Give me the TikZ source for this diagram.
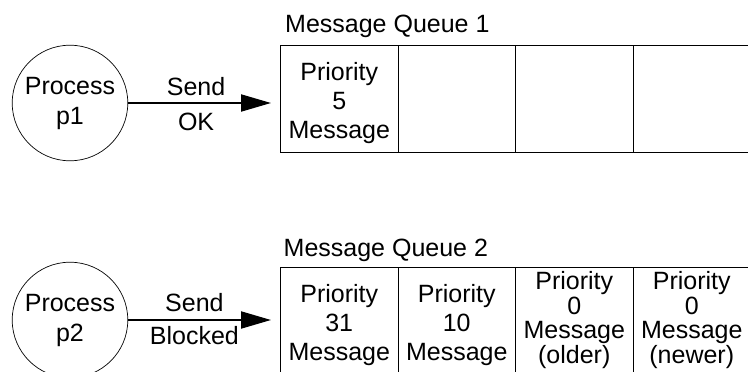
\documentclass[tikz,border=0pt]{standalone}
\usepackage{fontspec}
\setmainfont{Liberation Sans}
\usetikzlibrary{arrows.meta,calc}
\begin{document}
\begin{tikzpicture}[x=1pt,y=-1pt,
  proc/.style={circle,draw,line width=0.7pt,minimum size=115.6pt,inner sep=0pt,align=center,font=\fontsize{25}{30}\selectfont},
  cell/.style={rectangle,draw,line width=1pt,minimum width=117.5pt,minimum height=107pt,inner sep=0pt,outer sep=0pt,anchor=north west},
  celltext/.style={align=center,font=\fontsize{25}{29}\selectfont,inner sep=0pt},
  celltextfour/.style={align=center,font=\fontsize{25}{24.5}\selectfont,inner sep=0pt},
  qlabel/.style={anchor=base west,inner sep=0pt,font=\fontsize{25}{30}\selectfont},
  sendarrow/.style={line width=2pt,-{Triangle[length=30pt,width=17pt]},shorten >=9.5pt},
  lab/.style={inner sep=0pt,font=\fontsize{25}{30}\selectfont}
]
\clip (0,0) rectangle (748,372);

% processes
\node[proc] (p1) at (70,103) {Process\\p1};
\node[proc] (p2) at (70,320) {Process\\p2};

% queue 1
\node[cell] (q1c1) at (280.5,45) {};
\node[cell] (q1c2) at (398,45) {};
\node[cell] (q1c3) at (515.5,45) {};
\node[cell] (q1c4) at (633,45) {};
\node[qlabel] (ql1) at ($(q1c1.north west)+(4.5,-13)$) {Message Queue 1};
\node[celltext,yshift=-5pt] (t11) at (q1c1) {Priority\\5\\Message};

% queue 2
\node[cell] (q2c1) at (280.5,267.7) {};
\node[cell] (q2c2) at (398,267.7) {};
\node[cell] (q2c3) at (515.5,267.7) {};
\node[cell] (q2c4) at (633,267.7) {};
\node[qlabel] (ql2) at ($(q2c1.north west)+(3,-11.5)$) {Message Queue 2};
\node[celltext,yshift=-4pt] (t21) at (q2c1) {Priority\\31\\Message};
\node[celltext,yshift=-4pt] (t22) at (q2c2) {Priority\\10\\Message};
\node[celltextfour,yshift=1pt] (t23) at (q2c3) {Priority\\0\\Message\\(older)};
\node[celltextfour,yshift=1pt] (t24) at (q2c4) {Priority\\0\\Message\\(newer)};

% arrows
\draw[sendarrow] (p1.east) -- (p1.east -| q1c1.west)
  node[lab,pos=.446,above=6pt] (s1) {Send}
  node[lab,pos=.446,below=9pt] (o1) {OK};
\draw[sendarrow] (p2.east) -- (p2.east -| q2c1.west)
  node[lab,pos=.435,above=7pt] (s2) {Send}
  node[lab,pos=.435,below=5pt] (b2) {Blocked};
\end{tikzpicture}
\end{document}
